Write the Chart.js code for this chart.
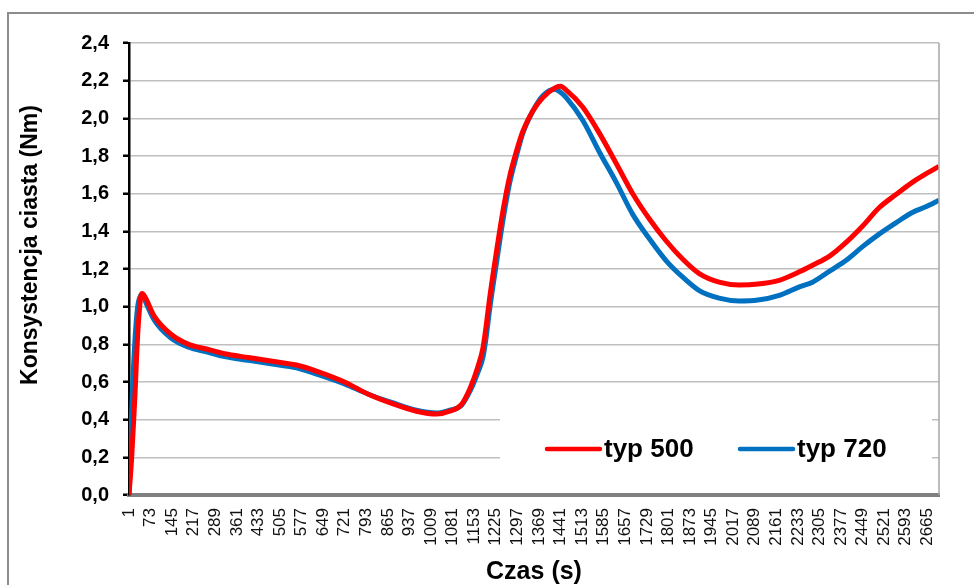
<!DOCTYPE html>
<html>
<head>
<meta charset="utf-8">
<script src="https://cdn.jsdelivr.net/npm/chart.js@4.4.1/dist/chart.umd.min.js"></script>
<style>body{margin:0;background:#fff}</style>
</head>
<body>
<canvas id="myChart" width="974" height="585"></canvas>
<script>
// czas pomiaru (s) i odczytane wartosci konsystencji (Nm)
var czas = [1, 10, 20, 30, 40, 45, 55, 85, 140, 200, 260, 320, 400, 480, 560, 640, 720, 800, 880, 960,
  1028, 1071, 1110, 1140, 1165, 1182, 1193, 1204, 1227, 1249, 1271, 1293, 1315, 1349, 1382, 1421, 1440, 1460,
  1515, 1571, 1627, 1682, 1740, 1793, 1850, 1904, 1970, 2037, 2100, 2171, 2238, 2282, 2340, 2393, 2450,
  2504, 2560, 2615, 2660, 2704];
var typ500 = [0.0, 0.20, 0.50, 0.85, 1.05, 1.07, 1.05, 0.95, 0.855, 0.80, 0.775, 0.75, 0.73, 0.71, 0.69, 0.65, 0.60, 0.535, 0.485, 0.445,
  0.43, 0.445, 0.48, 0.57, 0.68, 0.78, 0.90, 1.04, 1.29, 1.51, 1.69, 1.82, 1.93, 2.04, 2.11, 2.16, 2.17, 2.15,
  2.06, 1.92, 1.76, 1.60, 1.46, 1.35, 1.25, 1.175, 1.13, 1.115, 1.12, 1.14, 1.185, 1.22, 1.27, 1.34, 1.43,
  1.525, 1.595, 1.66, 1.705, 1.745];
var typ720 = [0.0, 0.45, 0.80, 1.00, 1.06, 1.065, 1.03, 0.93, 0.835, 0.785, 0.76, 0.735, 0.715, 0.695, 0.675, 0.635, 0.59, 0.535, 0.49, 0.45,
  0.435, 0.45, 0.475, 0.555, 0.65, 0.73, 0.84, 0.98, 1.23, 1.46, 1.655, 1.795, 1.92, 2.04, 2.12, 2.155, 2.14, 2.11,
  1.99, 1.82, 1.66, 1.49, 1.355, 1.245, 1.155, 1.085, 1.045, 1.03, 1.035, 1.06, 1.105, 1.13, 1.19, 1.245, 1.32,
  1.385, 1.445, 1.50, 1.53, 1.565];
var xTicks = [1, 73, 145, 217, 289, 361, 433, 505, 577, 649, 721, 793, 865, 937, 1009, 1081, 1153, 1225, 1297,
  1369, 1441, 1513, 1585, 1657, 1729, 1801, 1873, 1945, 2017, 2089, 2161, 2233, 2305, 2377, 2449, 2521, 2593, 2665];
var nazwy = ['typ 500', 'typ 720'];
var kolory = ['#ff0000', '#0070c0'];
var FONT = '"Liberation Sans", Arial, sans-serif';

function punkty(vals) {
  return czas.map((t, i) => ({x: t, y: vals[i]}));
}

var ramka = {
  id: 'ramka',
  beforeDraw(chart) {
    const c = chart.ctx;
    c.save();
    c.fillStyle = '#fff';
    c.fillRect(0, 0, chart.width, chart.height);
    c.strokeStyle = '#8c8c8c';
    c.lineWidth = 2;
    c.strokeRect(8, 13, chart.width + 20, chart.height + 20);
    c.restore();
  },
  afterDraw(chart) {
    const a = chart.chartArea, c = chart.ctx;
    c.save();
    c.strokeStyle = '#a6a6a6';
    c.lineWidth = 1.5;
    c.beginPath();
    c.moveTo(a.right, a.top);
    c.lineTo(a.right, a.bottom);
    c.stroke();
    // tytul osi Y
    c.translate(31, 245);
    c.rotate(-Math.PI / 2);
    c.font = 'bold 23px ' + FONT;
    c.fillStyle = '#000';
    c.textAlign = 'center';
    c.textBaseline = 'middle';
    c.fillText('Konsystencja ciasta (Nm)', 0, 0);
    c.restore();
  }
};

var legenda = {
  id: 'legenda',
  beforeDatasetsDraw(chart) {
    const a = chart.chartArea, c = chart.ctx;
    c.save();
    c.fillStyle = '#fff';
    c.fillRect(a.left + 371, a.bottom - 90, a.right - a.left - 378, 70);
    c.restore();
  },
  afterDatasetsDraw(chart) {
    const a = chart.chartArea, c = chart.ctx;
    const y = a.bottom - 46;
    c.save();
    chart.data.datasets.forEach((ds, i) => {
      const x0 = a.left + 418 + i * 193;
      c.strokeStyle = ds.borderColor;
      c.lineWidth = 4.5;
      c.lineCap = 'round';
      c.beginPath();
      c.moveTo(x0, y);
      c.lineTo(x0 + 53, y);
      c.stroke();
      c.fillStyle = '#000';
      c.font = 'bold 26px ' + FONT;
      c.textBaseline = 'middle';
      c.fillText(ds.label, x0 + 57, y + 1);
    });
    c.restore();
  }
};

var ctx = document.getElementById('myChart');
var myChart = new Chart(ctx, {
  type: 'line',
  data: {
    datasets: [
      {label: nazwy[0], data: punkty(typ500), borderColor: kolory[0], borderWidth: 5, pointRadius: 0, cubicInterpolationMode: 'monotone', fill: false},
      {label: nazwy[1], data: punkty(typ720), borderColor: kolory[1], borderWidth: 5, pointRadius: 0, cubicInterpolationMode: 'monotone', fill: false}
    ]
  },
  options: {
    responsive: false,
    animation: false,
    layout: {padding: {top: 43, right: 35, bottom: 0, left: 0}},
    plugins: {legend: {display: false}, tooltip: {enabled: false}},
    scales: {
      x: {
        type: 'linear', min: 1, max: 2704,
        afterBuildTicks: s => { s.ticks = xTicks.map(v => ({value: v})); },
        afterFit: s => { s.height = 90; },
        grid: {display: false, drawTicks: false},
        border: {display: true, color: '#808080', width: 4},
        ticks: {autoSkip: false, minRotation: 90, maxRotation: 90, padding: 13, color: '#111',
          font: {family: FONT, size: 17}, callback: v => String(v)},
        title: {display: true, text: 'Czas (s)', color: '#000', padding: 0,
          font: {family: FONT, size: 25, weight: 'bold', lineHeight: 1}}
      },
      y: {
        min: 0, max: 2.4,
        afterFit: s => { s.width = 129; },
        ticks: {stepSize: 0.2, padding: 14, color: '#000', font: {family: FONT, size: 20, weight: 'bold'},
          callback: v => v.toFixed(1).replace('.', ',')},
        grid: {color: '#bfbfbf', lineWidth: 1.5, tickLength: 6, tickColor: '#000', tickWidth: 2.5},
        border: {color: '#000', width: 2.5}
      }
    }
  },
  plugins: [ramka, legenda]
});
</script>
</body>
</html>
